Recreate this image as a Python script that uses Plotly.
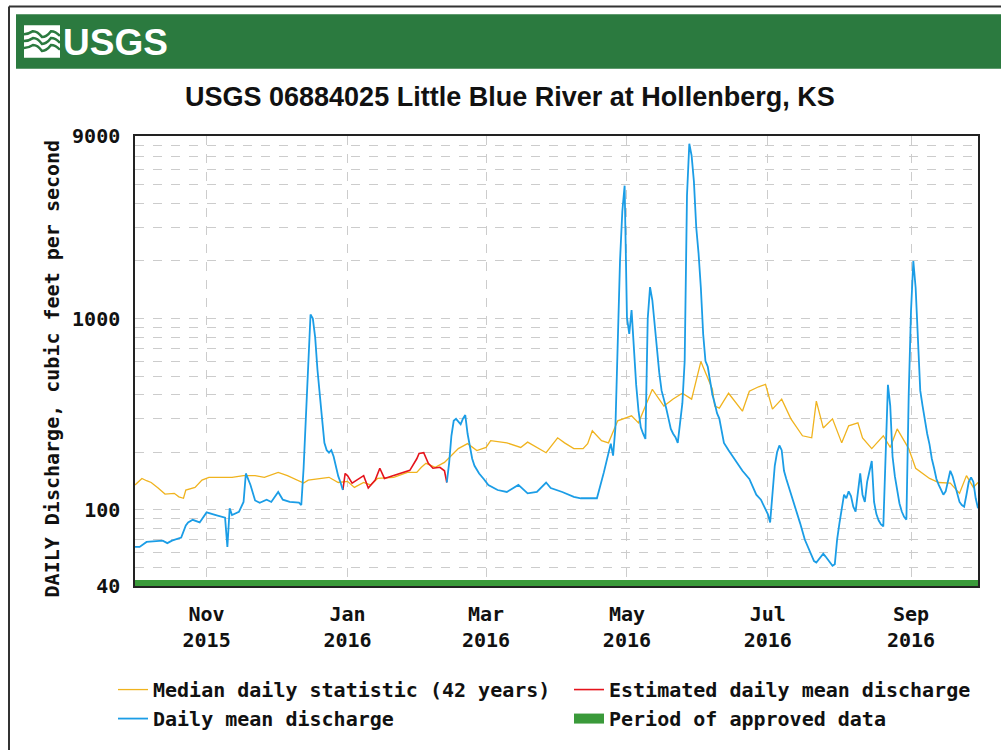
import plotly.graph_objects as go

# ---- Daily mean discharge (approved), cubic feet per second ----
daily_dates = [
    "2015-10-01", "2015-10-03", "2015-10-06", "2015-10-09", "2015-10-13", "2015-10-15",
    "2015-10-17", "2015-10-21", "2015-10-23", "2015-10-24", "2015-10-26", "2015-10-29",
    "2015-11-01", "2015-11-05", "2015-11-09", "2015-11-10", "2015-11-11", "2015-11-12",
    "2015-11-15", "2015-11-17", "2015-11-18", "2015-11-20", "2015-11-22", "2015-11-24",
    "2015-11-27", "2015-11-29", "2015-12-02", "2015-12-04", "2015-12-07", "2015-12-11",
    "2015-12-12", "2015-12-13", "2015-12-14", "2015-12-15", "2015-12-16", "2015-12-17",
    "2015-12-18", "2015-12-19", "2015-12-20", "2015-12-21", "2015-12-22", "2015-12-23",
    "2015-12-24", "2015-12-25", "2015-12-26", "2015-12-27", "2015-12-28", "2015-12-29",
    "2015-12-30",
    None,
    "2016-02-13", "2016-02-14", "2016-02-15", "2016-02-16", "2016-02-17", "2016-02-18",
    "2016-02-19", "2016-02-20", "2016-02-21", "2016-02-22", "2016-02-23", "2016-02-24",
    "2016-02-25", "2016-02-27", "2016-02-29", "2016-03-02", "2016-03-06", "2016-03-10",
    "2016-03-15", "2016-03-19", "2016-03-23", "2016-03-27", "2016-03-29", "2016-04-03",
    "2016-04-08", "2016-04-11", "2016-04-18", "2016-04-21", "2016-04-24", "2016-04-25",
    "2016-04-26", "2016-04-27", "2016-04-28", "2016-04-29", "2016-04-30", "2016-05-01",
    "2016-05-02", "2016-05-03", "2016-05-04", "2016-05-05", "2016-05-06", "2016-05-07",
    "2016-05-08", "2016-05-09", "2016-05-10", "2016-05-11", "2016-05-12", "2016-05-13",
    "2016-05-14", "2016-05-15", "2016-05-16", "2016-05-17", "2016-05-18", "2016-05-19",
    "2016-05-20", "2016-05-21", "2016-05-22", "2016-05-23", "2016-05-24", "2016-05-25",
    "2016-05-26", "2016-05-27", "2016-05-28", "2016-05-29", "2016-05-30", "2016-05-31",
    "2016-06-01", "2016-06-02", "2016-06-03", "2016-06-04", "2016-06-05", "2016-06-06",
    "2016-06-07", "2016-06-08", "2016-06-09", "2016-06-10", "2016-06-11", "2016-06-12",
    "2016-06-14", "2016-06-17", "2016-06-20", "2016-06-23", "2016-06-26", "2016-06-28",
    "2016-07-01", "2016-07-02", "2016-07-03", "2016-07-04", "2016-07-05", "2016-07-06",
    "2016-07-07", "2016-07-08", "2016-07-09", "2016-07-10", "2016-07-12", "2016-07-13",
    "2016-07-15", "2016-07-17", "2016-07-19", "2016-07-21", "2016-07-22", "2016-07-25",
    "2016-07-26", "2016-07-27", "2016-07-29", "2016-07-30", "2016-07-31", "2016-08-01",
    "2016-08-02", "2016-08-03", "2016-08-04", "2016-08-05", "2016-08-06", "2016-08-07",
    "2016-08-08", "2016-08-09", "2016-08-10", "2016-08-11", "2016-08-12", "2016-08-13",
    "2016-08-14", "2016-08-15", "2016-08-16", "2016-08-17", "2016-08-18", "2016-08-19",
    "2016-08-20", "2016-08-21", "2016-08-22", "2016-08-23", "2016-08-24", "2016-08-25",
    "2016-08-26", "2016-08-27", "2016-08-28", "2016-08-29", "2016-08-30", "2016-08-31",
    "2016-09-01", "2016-09-02", "2016-09-03", "2016-09-04", "2016-09-05", "2016-09-06",
    "2016-09-07", "2016-09-08", "2016-09-09", "2016-09-10", "2016-09-11", "2016-09-12",
    "2016-09-13", "2016-09-14", "2016-09-15", "2016-09-16", "2016-09-17", "2016-09-18",
    "2016-09-19", "2016-09-20", "2016-09-21", "2016-09-22", "2016-09-23", "2016-09-24",
    "2016-09-25", "2016-09-26", "2016-09-27", "2016-09-28", "2016-09-29", "2016-09-30",
]
daily_cfs = [
    64, 64, 68, 68.5, 69, 67,
    69, 71.6, 83, 86, 88.7, 86,
    97, 94, 91, 64, 102, 94,
    97.6, 110, 155, 135, 112, 109,
    113, 110, 124, 113, 110, 109,
    106, 165, 300, 600, 1050, 1000,
    800, 540, 380, 299, 224, 205,
    199, 205, 190, 165, 150, 139,
    127,
    None,
    139, 175, 244, 292, 299, 290,
    280, 300, 313, 250, 210, 185,
    170, 155, 145, 135, 127, 124,
    135, 122, 124, 139, 130, 124,
    117, 115, 115, 157, 222, 192,
    268, 800, 2000, 3640, 4950, 1018,
    832, 1107, 700, 450, 330, 270,
    250, 235, 1000, 1460, 1246, 900,
    660, 520, 420, 380, 340, 300,
    265, 250, 240, 224, 280, 361,
    600, 4400, 8200, 7100, 5200, 3000,
    2200, 1450, 830, 600, 560, 460,
    400, 361, 320, 300, 260, 224,
    205, 180, 160, 145, 120, 113,
    95, 86, 120, 170, 200, 217,
    205, 160, 145, 133, 110, 100,
    85, 70, 62, 54, 53, 59,
    57, 55, 51, 52, 70, 85,
    100, 120, 115, 125, 118, 104,
    98, 120, 155, 120, 110, 140,
    160, 180, 110, 95, 88, 84,
    82, 200, 450, 350, 190, 150,
    125, 108, 98, 92, 89, 400,
    1100, 2000, 1450, 750, 420, 350,
    290, 250, 220, 185, 165, 145,
    135, 128, 120, 125, 140, 160,
    150, 135, 122, 110, 106, 104,
    120, 140, 148, 140, 115, 102,
]

# ---- Estimated daily mean discharge (ice-affected period) ----
est_dates = [
    "2015-12-30", "2015-12-31", "2016-01-01", "2016-01-03", "2016-01-05", "2016-01-08",
    "2016-01-10", "2016-01-13", "2016-01-15", "2016-01-17", "2016-01-20", "2016-01-24",
    "2016-01-28", "2016-01-31", "2016-02-01", "2016-02-03", "2016-02-05", "2016-02-07",
    "2016-02-10", "2016-02-12", "2016-02-13",
]
est_cfs = [
    127, 155, 151, 138, 143, 151,
    130, 143, 165, 146, 150, 155,
    161, 185, 197, 199, 175, 165,
    167, 160, 139,
]

# ---- Median daily statistic (42 years) ----
median_dates = [
    "2015-10-01", "2015-10-04", "2015-10-06", "2015-10-08", "2015-10-11", "2015-10-14",
    "2015-10-18", "2015-10-20", "2015-10-22", "2015-10-23", "2015-10-27", "2015-10-30",
    "2015-11-02", "2015-11-12", "2015-11-17", "2015-11-22", "2015-11-26", "2015-12-02",
    "2015-12-06", "2015-12-13", "2015-12-15", "2015-12-24", "2015-12-28", "2016-01-01",
    "2016-01-04", "2016-01-08", "2016-01-11", "2016-01-14", "2016-01-21", "2016-01-27",
    "2016-01-31", "2016-02-02", "2016-02-04", "2016-02-08", "2016-02-12", "2016-02-15",
    "2016-02-18", "2016-02-22", "2016-02-26", "2016-03-01", "2016-03-03", "2016-03-10",
    "2016-03-16", "2016-03-19", "2016-03-23", "2016-03-27", "2016-04-01", "2016-04-04",
    "2016-04-08", "2016-04-12", "2016-04-14", "2016-04-16", "2016-04-20", "2016-04-23",
    "2016-04-27", "2016-05-03", "2016-05-06", "2016-05-12", "2016-05-17", "2016-05-21",
    "2016-05-25", "2016-05-29", "2016-06-02", "2016-06-07", "2016-06-08", "2016-06-10",
    "2016-06-14", "2016-06-20", "2016-06-23", "2016-06-27", "2016-06-30", "2016-07-03",
    "2016-07-07", "2016-07-11", "2016-07-16", "2016-07-20", "2016-07-22", "2016-07-25",
    "2016-07-29", "2016-08-02", "2016-08-05", "2016-08-09", "2016-08-11", "2016-08-15",
    "2016-08-20", "2016-08-23", "2016-08-26", "2016-08-31", "2016-09-03", "2016-09-09",
    "2016-09-13", "2016-09-18", "2016-09-22", "2016-09-25", "2016-09-28", "2016-09-30",
]
median_cfs = [
    135, 146, 142, 139, 130, 121,
    122, 117, 115, 127, 131, 143,
    148, 148, 151, 151, 148, 157,
    151, 138, 143, 148, 139, 141,
    131, 139, 135, 146, 148, 157,
    157, 167, 175, 167, 177, 192,
    209, 222, 204, 212, 230, 224,
    212, 226, 212, 199, 238, 224,
    209, 209, 222, 259, 230, 224,
    292, 310, 285, 427, 349, 380,
    407, 379, 596, 427, 349, 340,
    407, 328, 417, 440, 453, 336,
    379, 299, 244, 238, 370, 268,
    299, 224, 275, 285, 238, 209,
    244, 212, 265, 209, 165, 146,
    139, 138, 122, 151, 131, 139,
]

# ---- Period of approved data ----
approved_dates = ["2015-10-01", "2016-09-30"]

# ---- Axis ticks ----
month_ticks = ["2015-11-01", "2016-01-01", "2016-03-01", "2016-05-01", "2016-07-01", "2016-09-01"]
month_labels = ["Nov<br>2015", "Jan<br>2016", "Mar<br>2016", "May<br>2016", "Jul<br>2016", "Sep<br>2016"]
y_major = [40, 100, 1000, 9000]
y_minor = [50, 60, 70, 80, 90, 200, 300, 400, 500, 600, 700, 800, 900,
           2000, 3000, 4000, 5000, 6000, 7000, 8000]

TITLE = "USGS 06884025 Little Blue River at Hollenberg, KS"
Y_TITLE = "DAILY Discharge, cubic feet per second"

# ---- Page geometry ----
W, H = 1001, 750
ML, MR, MT, MB = 135, 23, 136, 159
PW, PH = W - ML - MR, H - MT - MB


def px(x):
    return (x - ML) / PW


def py(y):
    return (H - MB - y) / PH


MONO = "DejaVu Sans Mono"
NARROW = "Liberation Sans Narrow, Arial Narrow, Liberation Sans, Arial, sans-serif"
GREEN_BANNER = "#2b7a3f"
TEXT_FONT = dict(family=MONO, size=20, color="#111", weight="bold")

fig = go.Figure()

# left legend column: median + daily mean; right column: estimated + approved
fig.add_trace(go.Scatter(
    x=median_dates, y=median_cfs, mode="lines",
    line=dict(color="#f0b31e", width=1.3),
    name="Median daily statistic (42 years)", legend="legend",
))
fig.add_trace(go.Scatter(
    x=est_dates, y=est_cfs, mode="lines",
    line=dict(color="#e5141c", width=1.6),
    name="Estimated daily mean discharge", legend="legend2",
))
fig.add_trace(go.Scatter(
    x=daily_dates, y=daily_cfs, mode="lines", connectgaps=False,
    line=dict(color="#1b9de6", width=1.8),
    name="Daily mean discharge", legend="legend",
))
fig.add_trace(go.Scatter(
    x=approved_dates, y=[40, 40], mode="lines",
    line=dict(color="#3a9a3a", width=12),
    name="Period of approved data", legend="legend2",
))

grid_style = dict(showgrid=True, gridcolor="#cccccc", griddash="dash", gridwidth=1)

fig.update_xaxes(
    type="date", range=["2015-10-01", "2016-09-30"],
    tickmode="array", tickvals=month_ticks, ticktext=month_labels,
    tickfont=TEXT_FONT,
    ticks="", ticklabelstandoff=9,
    showline=True, linecolor="#222", linewidth=1.5, mirror=True,
    zeroline=False, **grid_style,
)
fig.update_yaxes(
    type="log", range=[1.60206, 3.95424],
    tickmode="array", tickvals=y_major, ticktext=[str(v) for v in y_major],
    tickfont=TEXT_FONT,
    ticks="", ticklabelstandoff=9,
    minor=dict(tickmode="array", tickvals=y_minor, ticks="", **grid_style),
    showline=True, linecolor="#222", linewidth=1.5, mirror=True,
    zeroline=False,
    **grid_style,
)

shapes = [
    # green banner across the top
    dict(type="rect", xref="paper", yref="paper", layer="below",
         x0=px(16), x1=px(1010), y0=py(68), y1=py(13),
         fillcolor=GREEN_BANNER, line=dict(width=0)),
    # page frame
    dict(type="line", xref="paper", yref="paper",
         x0=px(9), x1=px(1010), y0=py(5), y1=py(5),
         line=dict(color="#333", width=2)),
    dict(type="line", xref="paper", yref="paper",
         x0=px(9), x1=px(9), y0=py(5), y1=py(760),
         line=dict(color="#333", width=2)),
    # logo mark: white tile with green waves
    dict(type="rect", xref="paper", yref="paper",
         x0=px(24), x1=px(60), y0=py(57), y1=py(24),
         fillcolor="white", line=dict(width=0)),
]


def wave_path(y0, amp):
    pts = [(24, y0), (33, y0 - amp), (42, y0 + amp), (51, y0 - amp), (60, y0 + amp * 0.6)]
    d = "M {} {}".format(px(pts[0][0]), py(pts[0][1]))
    for i in range(1, len(pts)):
        xa, ya = pts[i - 1]
        xb, yb = pts[i]
        cx = (xa + xb) / 2
        d += " Q {} {} {} {}".format(px(cx), py(ya), px(xb), py(yb))
    return d


for wy in (33, 40, 47):
    shapes.append(dict(type="path", xref="paper", yref="paper",
                       path=wave_path(wy, 3), line=dict(color=GREEN_BANNER, width=2.5)))

annotations = [
    dict(text="<b>USGS</b>", xref="paper", yref="paper", x=px(61), y=py(41),
         xanchor="left", yanchor="middle", showarrow=False,
         font=dict(family=NARROW, size=37, color="white")),
    dict(text="<b>" + TITLE + "</b>", xref="paper", yref="paper", x=px(510), y=py(97),
         xanchor="center", yanchor="middle", showarrow=False,
         font=dict(family=NARROW, size=27, color="#111")),
    dict(text=Y_TITLE, xref="paper", yref="paper", x=px(52), y=py(371),
         xanchor="center", yanchor="middle", textangle=-90, showarrow=False,
         font=TEXT_FONT),
]

legend_common = dict(
    orientation="v", xanchor="left", y=py(676), yanchor="top",
    font=TEXT_FONT, bgcolor="rgba(0,0,0,0)", borderwidth=0,
    traceorder="normal", tracegroupgap=0,
)

fig.update_layout(
    width=W, height=H,
    margin=dict(l=ML, r=MR, t=MT, b=MB),
    paper_bgcolor="white", plot_bgcolor="white",
    shapes=shapes, annotations=annotations,
    showlegend=True,
    legend=dict(x=px(113), **legend_common),
    legend2=dict(x=px(569), **legend_common),
)

fig.write_html("out.html")
